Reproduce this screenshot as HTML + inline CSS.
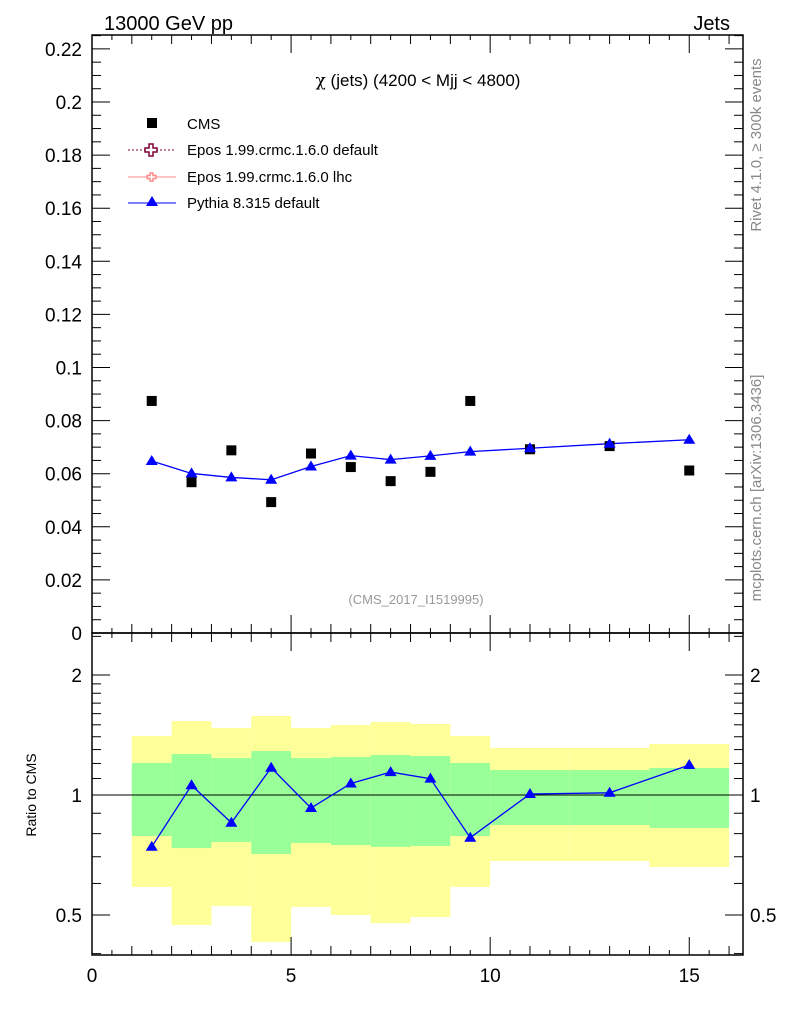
<!DOCTYPE html>
<html><head><meta charset="utf-8"><style>
html,body{margin:0;padding:0;background:#fff;}
svg{display:block;font-family:"Liberation Sans","DejaVu Sans",sans-serif;}
</style></head><body>
<svg id="c" width="786" height="1024" viewBox="0 0 786 1024">
<g id="bands"></g>
<g id="axes"></g>
<g id="marks"></g>
<text x="104" y="30" font-size="20">13000 GeV pp</text>
<text x="730" y="30" font-size="20" text-anchor="end">Jets</text>
<text x="418" y="86" font-size="17" text-anchor="middle"><tspan font-family="DejaVu Serif,serif">χ</tspan> (jets) (4200 &lt; Mjj &lt; 4800)</text>
<text x="416" y="604" font-size="13" fill="#999" text-anchor="middle">(CMS_2017_I1519995)</text>
<text transform="translate(761,145) rotate(-90)" font-size="15" fill="#888" text-anchor="middle">Rivet 4.1.0, ≥ 300k events</text>
<text transform="translate(761,488) rotate(-90)" font-size="15" fill="#888" text-anchor="middle">mcplots.cern.ch [arXiv:1306.3436]</text>
<text transform="translate(36,795) rotate(-90)" font-size="14" text-anchor="middle">Ratio to CMS</text>
<g>
<g><rect x="147" y="118" width="10" height="10" fill="#000"/><text x="187" y="129" font-size="15">CMS</text></g>
<g><line x1="128" y1="150" x2="176" y2="150" stroke="#800033" stroke-dasharray="2,2"/><path d="M149 144h4v4h4v4h-4v4h-4v-4h-4v-4h4z" fill="#fff" stroke="#800033" stroke-width="1.5"/><text x="187" y="155" font-size="15">Epos 1.99.crmc.1.6.0 default</text></g>
<g><line x1="128" y1="177" x2="176" y2="177" stroke="#f88"/><path d="M150 173h3v2.5h3v3h-3v2.5h-3v-2.5h-3v-3h3z" fill="#fff" stroke="#f88" stroke-width="1.5"/><text x="187" y="182" font-size="15">Epos 1.99.crmc.1.6.0 lhc</text></g>
<g><line x1="128" y1="203" x2="176" y2="203" stroke="#00f"/><path d="M152 196l6 10h-12z" fill="#00f"/><text x="187" y="208" font-size="15">Pythia 8.315 default</text></g>
</g>
</svg>
<script>
const binLo=[1,2,3,4,5,6,7,8,9,10,12,14];
const binHi=[2,3,4,5,6,7,8,9,10,12,14,16];
const xCenters=[1.5,2.5,3.5,4.5,5.5,6.5,7.5,8.5,9.5,11,13,15];
const cmsVals=[0.0874,0.0568,0.0688,0.0493,0.0676,0.0625,0.0572,0.0607,0.0874,0.0692,0.0704,0.0612];
const pythiaVals=[0.0648,0.0601,0.0586,0.0577,0.0627,0.0668,0.0653,0.0667,0.0683,0.0696,0.0713,0.0728];
const pythiaErr=[0.0012,0.0012,0.0011,0.0011,0.0011,0.0012,0.0011,0.0011,0.0010,0.0008,0.0008,0.0008];
const greenHi=[1.203,1.267,1.238,1.289,1.238,1.245,1.26,1.253,1.203,1.155,1.155,1.169];
const greenLo=[0.789,0.736,0.762,0.711,0.758,0.749,0.741,0.745,0.789,0.841,0.841,0.827];
const yellowHi=[1.406,1.533,1.473,1.578,1.473,1.498,1.525,1.507,1.406,1.312,1.312,1.343];
const yellowLo=[0.588,0.472,0.527,0.428,0.524,0.5,0.477,0.494,0.588,0.683,0.683,0.66];
const mainTicks=[0,0.02,0.04,0.06,0.08,0.1,0.12,0.14,0.16,0.18,0.2,0.22];
const mainTickLabels=["0","0.02","0.04","0.06","0.08","0.1","0.12","0.14","0.16","0.18","0.2","0.22"];
const xTicks=[0,5,10,15];
const ratioTicks=[0.5,1,2];

const L=92,R=743,T=35,M=633,B=955,XMAX=16.35;
const X=v=>L+v*(R-L)/XMAX;
const Y=v=>M-v*2655;
const YR=r=>795-120*Math.log2(r);
const NS="http://www.w3.org/2000/svg";
function mk(par,tag,at){const e=document.createElementNS(NS,tag);for(const k in at)e.setAttribute(k,at[k]);document.getElementById(par).appendChild(e);return e;}

for(let i=0;i<binLo.length;i++){
  const y=mk('bands','rect',{x:X(binLo[i]),y:YR(yellowHi[i]),width:X(binHi[i])-X(binLo[i]),height:YR(yellowLo[i])-YR(yellowHi[i]),fill:'#ffff99'});
  
  
  const g=mk('bands','rect',{x:X(binLo[i]),y:YR(greenHi[i]),width:X(binHi[i])-X(binLo[i]),height:YR(greenLo[i])-YR(greenHi[i]),fill:'#99ff99'});
  
  
}
mk('axes','rect',{x:L,y:T,width:R-L,height:M-T,fill:'none',stroke:'#000','stroke-width':1.5});
mk('axes','rect',{x:L,y:M,width:R-L,height:B-M,fill:'none',stroke:'#000','stroke-width':1.5});
mk('axes','line',{x1:L,x2:R,y1:YR(1),y2:YR(1),stroke:'#000','stroke-width':1});
for(let v=0;v<=0.2251;v+=0.005){
  const maj=Math.abs(v/0.02-Math.round(v/0.02))<1e-6;const len=maj?18:9;
  mk('axes','line',{x1:L,x2:L+len,y1:Y(v),y2:Y(v),stroke:'#000'});
  mk('axes','line',{x1:R,x2:R-len,y1:Y(v),y2:Y(v),stroke:'#000'});
}
mainTicks.forEach((v,i)=>{const t=mk('axes','text',{x:82,y:Y(v)+7,'font-size':19,'text-anchor':'end'});t.textContent=mainTickLabels[i];

});
for(let v=0;v<=16.01;v+=0.5){
  const len=(v%5===0)?18:(v%1===0?9:5);
  [[T,1],[M,-1],[M,1],[B,-1]].forEach(([y0,d])=>mk('axes','line',{x1:X(v),x2:X(v),y1:y0,y2:y0+d*len,stroke:'#000'}));
}
xTicks.forEach(v=>{const t=mk('axes','text',{x:X(v),y:982,'font-size':19,'text-anchor':'middle'});t.textContent=String(v);

});
[0.4,0.5,0.6,0.7,0.8,0.9,1,1.1,1.2,1.3,1.4,1.5,1.6,1.7,1.8,1.9,2,2.5].forEach(r=>{
  const y=YR(r);if(y<M||y>B)return;const len=ratioTicks.includes(r)?18:9;
  mk('axes','line',{x1:L,x2:L+len,y1:y,y2:y,stroke:'#000'});
  mk('axes','line',{x1:R,x2:R-len,y1:y,y2:y,stroke:'#000'});
});
ratioTicks.forEach(r=>{const lab=String(r);
  const a=mk('axes','text',{x:82,y:YR(r)+7,'font-size':19,'text-anchor':'end'});a.textContent=lab;
  
  
  const b=mk('axes','text',{x:750,y:YR(r)+7,'font-size':19});b.textContent=lab;
  
  });
const tri=(x,y)=>`M${x} ${y-7}l6 10h-12z`;
mk('marks','polyline',{points:xCenters.map((x,i)=>X(x)+','+Y(pythiaVals[i])).join(' '),fill:'none',stroke:'#00f','stroke-width':1.3});
const rat=pythiaVals.map((v,i)=>v/cmsVals[i]);
mk('marks','polyline',{points:xCenters.map((x,i)=>X(x)+','+YR(rat[i])).join(' '),fill:'none',stroke:'#00f','stroke-width':1.3});
xCenters.forEach((x,i)=>{
  const c=mk('marks','rect',{x:X(x)-5,y:Y(cmsVals[i])-5,width:10,height:10,fill:'#000'});
  
  
  mk('marks','line',{x1:X(x),x2:X(x),y1:Y(pythiaVals[i]+pythiaErr[i]),y2:Y(pythiaVals[i]-pythiaErr[i]),stroke:'#00f','stroke-width':1.5});
  const p=mk('marks','path',{d:tri(X(x),Y(pythiaVals[i])+1),fill:'#00f'});
  
  
  const re=pythiaErr[i]/cmsVals[i];
  mk('marks','line',{x1:X(x),x2:X(x),y1:YR(rat[i]+re),y2:YR(rat[i]-re),stroke:'#00f','stroke-width':1.5});
  const q=mk('marks','path',{d:tri(X(x),YR(rat[i])+1),fill:'#00f'});
  
  
});
</script>
</body></html>
